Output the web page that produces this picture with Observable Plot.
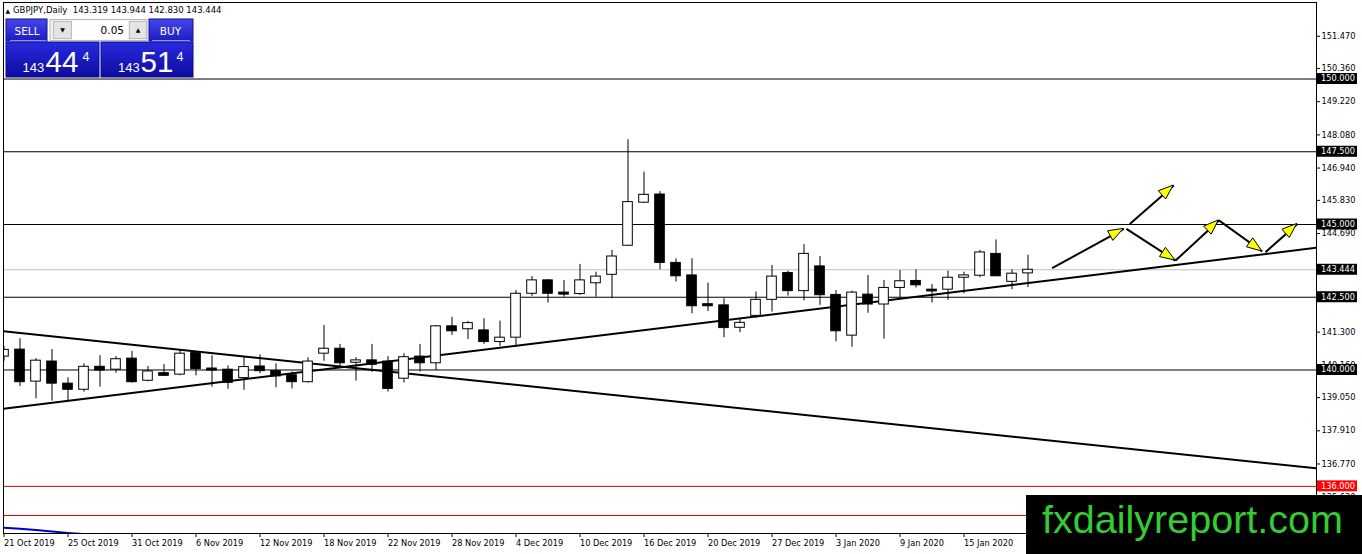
<!DOCTYPE html>
<html><head><meta charset="utf-8">
<script src="https://cdn.jsdelivr.net/npm/d3@7"></script>
<script src="https://cdn.jsdelivr.net/npm/@observablehq/plot@0.6"></script>
<style>
body{margin:0;background:#fff;}
#wrap{position:relative;width:1362px;height:554px;overflow:hidden;}
#wrap svg{display:block;}
</style></head><body><div id="wrap"></div>
<script>
// ---- Data ----
const symbol = "GBPJPY,Daily";
const tickBars = [0,4,8,12,16,20,24,28,32,36,40,44,48,52,56,60];
const tickLabels = ["21 Oct 2019","25 Oct 2019","31 Oct 2019","6 Nov 2019","12 Nov 2019","18 Nov 2019","22 Nov 2019","28 Nov 2019","4 Dec 2019","10 Dec 2019","16 Dec 2019","20 Dec 2019","27 Dec 2019","3 Jan 2020","9 Jan 2020","15 Jan 2020"];
const opens  = [140.46,140.70,139.60,140.29,139.53,139.32,140.11,140.01,140.39,139.63,139.89,139.84,140.58,140.05,140.01,139.72,140.12,139.96,139.82,139.58,140.56,140.73,140.25,140.33,140.29,139.70,140.46,140.23,141.50,141.40,141.36,140.96,141.11,142.62,143.08,142.66,142.61,142.98,143.27,144.27,145.75,146.03,143.68,143.25,142.26,142.22,141.45,141.86,142.41,143.33,142.71,143.56,142.58,141.18,142.59,142.25,142.82,143.06,142.76,142.76,143.17,143.24,143.99,143.03,143.319];
const highs  = [140.80,141.07,140.39,140.70,139.73,140.21,140.49,140.46,140.64,140.12,140.19,140.65,140.60,140.49,140.14,140.44,140.52,140.21,139.93,140.42,141.53,140.88,140.42,140.88,140.46,140.56,140.88,141.53,141.81,141.67,141.76,141.68,142.73,143.21,143.11,143.08,143.63,143.36,144.11,147.91,146.80,146.13,143.82,143.82,142.99,142.45,141.78,142.68,143.59,143.40,144.31,143.90,142.73,142.71,143.25,143.08,143.42,143.44,142.94,143.40,143.36,144.11,144.47,143.44,143.944];
const lows   = [140.30,139.43,139.01,138.93,138.95,139.24,139.41,139.89,139.55,139.59,139.78,139.80,139.80,139.41,139.34,139.30,139.87,139.39,139.35,139.55,140.30,140.10,139.62,139.92,139.24,139.55,139.93,139.98,141.19,141.05,140.88,140.81,140.78,142.53,142.30,142.50,142.56,142.50,142.45,144.25,145.73,143.44,143.02,141.93,142.01,141.11,141.28,141.77,141.99,142.54,142.37,142.22,140.97,140.78,141.95,141.06,142.45,142.82,142.30,142.39,142.62,143.17,143.21,142.76,142.830];
const closes = [140.69,139.58,140.32,139.53,139.32,140.11,139.98,140.37,139.58,139.95,139.80,140.56,140.03,139.98,139.56,140.10,139.96,139.78,139.58,140.29,140.73,140.23,140.33,140.18,139.35,140.44,140.23,141.50,141.33,141.61,140.96,141.11,142.62,143.08,142.62,142.59,143.08,143.21,143.90,145.77,146.02,143.68,143.22,142.19,142.19,141.44,141.62,142.41,143.21,142.71,143.99,142.57,141.33,142.66,142.25,142.82,143.05,142.91,142.70,143.17,143.25,144.04,143.22,143.31,143.444];
const levelsBlack = [150, 147.5, 145, 142.5, 140];
const levelsRed = [136, 135];
const currentPrice = 143.444;
const askPrice = 143.514;
const lotSize = "0.05";
const priceTicks = [151.47,150.36,149.22,148.08,146.94,145.83,144.69,141.30,140.16,139.05,137.91,136.77,135.63];
const trendDownBars = [-0.03, 82.03];
const trendDownPrices = [141.33, 136.62];
const trendUpBars = [-0.03, 82.03];
const trendUpPrices = [138.67, 144.20];
const blueBars = [0,1,2,3,4,5];
const bluePrices = [134.58,134.54,134.50,134.45,134.40,134.36];
const arrowFromBars   = [65.51, 70.15, 73.22, 75.93, 78.84, 70.36];
const arrowFromPrices = [143.50, 144.85, 143.76, 145.14, 144.05, 145.02];
const arrowToBars     = [69.99, 73.22, 75.93, 78.64, 80.83, 73.11];
const arrowToPrices   = [144.85, 143.76, 145.14, 144.07, 145.02, 146.34];

// ---- Build tables ----
const bars = opens.map((o, i) => ({i, open: o, high: highs[i], low: lows[i], close: closes[i]}));
const trendDown = trendDownBars.map((b, k) => ({b, p: trendDownPrices[k]}));
const trendUp = trendUpBars.map((b, k) => ({b, p: trendUpPrices[k]}));
const blue = blueBars.map((b, k) => ({b, p: bluePrices[k]}));
const arrows = arrowFromBars.map((b, k) => ({x1: b, y1: arrowFromPrices[k], x2: arrowToBars[k], y2: arrowToPrices[k]}));
const boxLevels = [...levelsBlack.map(v => ({v, c: "black"})), {v: currentPrice, c: "black"}, {v: levelsRed[0], c: "#ff0000"}];

function arrowHeads(index, scales, values, dimensions) {
  const g = d3.create("svg:g");
  for (const a of arrows) {
    const x0 = scales.x(a.x1), y0 = scales.y(a.y1), x1 = scales.x(a.x2), y1 = scales.y(a.y2);
    const ang = Math.atan2(y1 - y0, x1 - x0), L = 15, W = 5.5;
    const bx = x1 - L * Math.cos(ang), by = y1 - L * Math.sin(ang);
    const pts = [[x1, y1], [bx - W * Math.sin(ang), by + W * Math.cos(ang)], [bx + W * Math.sin(ang), by - W * Math.cos(ang)]];
    g.append("polygon").attr("points", pts.map(p => p.join(",")).join(" "))
      .attr("fill", "#ffff00").attr("stroke", "black").attr("stroke-width", 1);
  }
  return g.node();
}

function levelBoxes(index, scales, values, dimensions) {
  const g = d3.create("svg:g").attr("text-anchor", "start");
  const x0 = dimensions.width - dimensions.marginRight + 1;
  for (const b of boxLevels) {
    const y = scales.y(b.v);
    g.append("rect").attr("x", x0).attr("y", y - 5.5).attr("width", 40).attr("height", 11).attr("fill", b.c);
    g.append("text").attr("x", x0 + 4).attr("y", y).attr("dy", "0.35em").attr("fill", "white")
      .attr("text-anchor", "start")
      .attr("font-family", "DejaVu Sans").attr("font-size", "8.2px").text(b.v.toFixed(3));
  }
  return g.node();
}

const chart = Plot.plot({
  width: 1362, height: 554,
  marginLeft: 3, marginRight: 46, marginTop: 2, marginBottom: 21,
  style: {fontFamily: "DejaVu Sans", fontSize: "8.2px", color: "black", background: "white", overflow: "visible"},
  x: {type: "linear", domain: [-0.031, 82.03]},
  y: {domain: [134.38, 152.63]},
  marks: [
    Plot.ruleY(levelsBlack, {stroke: "black", strokeWidth: 1}),
    Plot.ruleY([currentPrice], {stroke: "#c0c0c0", strokeWidth: 1}),
    Plot.ruleY(levelsRed, {stroke: "#d40000", strokeWidth: 1}),
    Plot.line(blue, {x: "b", y: "p", stroke: "#0000cc", strokeWidth: 2, clip: true}),
    Plot.line(trendDown, {x: "b", y: "p", stroke: "black", strokeWidth: 2, clip: true}),
    Plot.line(trendUp, {x: "b", y: "p", stroke: "black", strokeWidth: 2, clip: true}),
    Plot.ruleX(bars, {x: "i", y1: "low", y2: "high", stroke: "black", strokeWidth: 1, clip: true}),
    Plot.rect(bars, {x1: d => d.i - 0.3, x2: d => d.i + 0.3, y1: "open", y2: "close",
      fill: d => d.close >= d.open ? "white" : "black", stroke: "black", strokeWidth: 1, clip: true}),
    Plot.link(arrows, {x1: "x1", y1: "y1", x2: "x2", y2: "y2", stroke: "black", strokeWidth: 2}),
    arrowHeads,
    Plot.frame({stroke: "black"}),
    Plot.axisY({anchor: "right", ticks: priceTicks, tickFormat: d3.format(".3f"), tickSize: 3, tickPadding: 2}),
    Plot.axisX({anchor: "bottom", ticks: tickBars, tickFormat: d => tickLabels[tickBars.indexOf(d)], textAnchor: "start", tickSize: 4, tickPadding: 3}),
    levelBoxes
  ]
});
const wrap = document.getElementById("wrap");
wrap.append(chart);

// ---- Overlay: trading panel and logo ----
const ov = d3.select("#wrap").append("svg").attr("width", 1362).attr("height", 554)
  .style("position", "absolute").style("left", "0px").style("top", "0px");
const defs = ov.append("defs");
const g1 = defs.append("linearGradient").attr("id", "gBtn").attr("x1", 0).attr("y1", 0).attr("x2", 0).attr("y2", 1);
g1.append("stop").attr("offset", 0).attr("stop-color", "#4646ea");
g1.append("stop").attr("offset", 1).attr("stop-color", "#1c1cc4");
const g2 = defs.append("linearGradient").attr("id", "gBox").attr("x1", 0).attr("y1", 0).attr("x2", 0).attr("y2", 1);
g2.append("stop").attr("offset", 0).attr("stop-color", "#2a2ade");
g2.append("stop").attr("offset", 1).attr("stop-color", "#0c0ca0");

const last = opens.length - 1;
ov.append("text").attr("x", 5.5).attr("y", 12.5).attr("font-size", "6px").attr("font-family", "DejaVu Sans").text("▲");
ov.append("text").attr("x", 13).attr("y", 13.3).attr("font-size", "8.5px").attr("font-family", "DejaVu Sans")
  .style("white-space", "pre")
  .text(`${symbol}  ${opens[last].toFixed(3)} ${highs[last].toFixed(3)} ${lows[last].toFixed(3)} ${closes[last].toFixed(3)}`);

// buttons
ov.append("rect").attr("x", 6).attr("y", 19).attr("width", 41).attr("height", 22).attr("fill", "url(#gBtn)").attr("stroke", "#1010a0");
ov.append("rect").attr("x", 149).attr("y", 19).attr("width", 44).attr("height", 22).attr("fill", "url(#gBtn)").attr("stroke", "#1010a0");
ov.append("line").attr("x1", 10).attr("x2", 46).attr("y1", 40.5).attr("y2", 40.5).attr("stroke", "#8a8aff");
ov.append("line").attr("x1", 152).attr("x2", 190).attr("y1", 40.5).attr("y2", 40.5).attr("stroke", "#8a8aff");
ov.append("text").attr("x", 27).attr("y", 35).attr("text-anchor", "middle").attr("fill", "white")
  .attr("font-family", "DejaVu Sans").attr("font-size", "10.5px").text("SELL");
ov.append("text").attr("x", 170.5).attr("y", 35).attr("text-anchor", "middle").attr("fill", "white")
  .attr("font-family", "DejaVu Sans").attr("font-size", "10.5px").text("BUY");
// spinner
ov.append("rect").attr("x", 50).attr("y", 19.5).attr("width", 97).attr("height", 21).attr("fill", "#f2f2f2").attr("stroke", "#b8b8b8");
ov.append("rect").attr("x", 72).attr("y", 20.5).attr("width", 56).attr("height", 19).attr("fill", "white");
ov.append("rect").attr("x", 53.5).attr("y", 21.5).attr("width", 18).attr("height", 17).attr("fill", "#e4e4e4").attr("stroke", "#bcbcbc");
ov.append("rect").attr("x", 129.5).attr("y", 21.5).attr("width", 17).attr("height", 17).attr("fill", "#e4e4e4").attr("stroke", "#bcbcbc");
ov.append("text").attr("x", 62.5).attr("y", 32).attr("text-anchor", "middle").attr("font-size", "6px").attr("font-family", "DejaVu Sans").text("▼");
ov.append("text").attr("x", 138).attr("y", 32).attr("text-anchor", "middle").attr("font-size", "6px").attr("font-family", "DejaVu Sans").text("▲");
ov.append("text").attr("x", 124).attr("y", 34).attr("text-anchor", "end").attr("font-size", "10.5px").attr("font-family", "DejaVu Sans").text(lotSize);
// price boxes
function priceBox(x, w, price, xs) {
  ov.append("rect").attr("x", x).attr("y", 42).attr("width", w).attr("height", 35).attr("fill", "url(#gBox)").attr("stroke", "#0a0a90");
  const s = price.toFixed(3);
  ov.append("text").attr("x", xs[0]).attr("y", 71.7).attr("fill", "white").attr("font-family", "Liberation Sans").attr("font-size", "13px").text(s.slice(0, 3));
  ov.append("text").attr("x", xs[1]).attr("y", 71.7).attr("fill", "white").attr("font-family", "Liberation Sans").attr("font-size", "29.5px").text(s.slice(4, 6));
  ov.append("text").attr("x", xs[2]).attr("y", 60.5).attr("fill", "white").attr("font-family", "Liberation Sans").attr("font-size", "12.5px").text(s.slice(6));
}
priceBox(6, 93, currentPrice, [22.5, 45.5, 82.5]);
priceBox(101, 92, askPrice, [118, 140.5, 176.5]);

// logo
ov.append("rect").attr("x", 1026).attr("y", 495).attr("width", 336).attr("height", 59).attr("fill", "black");
ov.append("text").attr("x", 1042).attr("y", 533).attr("fill", "#33cc33").attr("font-family", "Liberation Sans")
  .attr("font-size", "39.5px").attr("textLength", 301).text("fxdailyreport.com");
</script>
</body></html>
